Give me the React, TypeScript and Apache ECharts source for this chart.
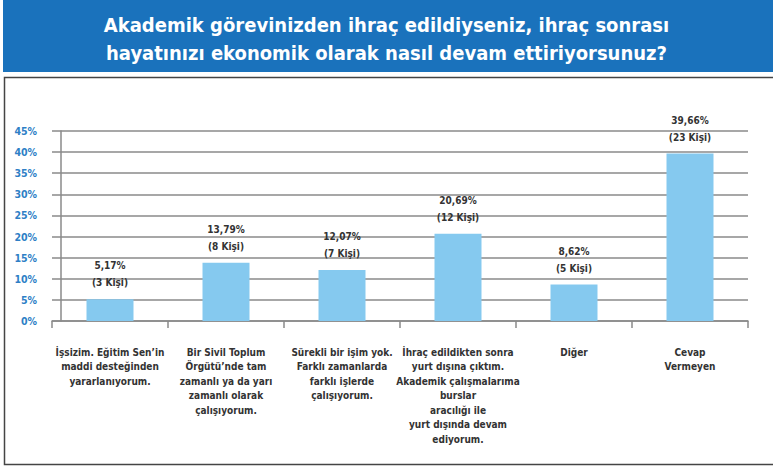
import React, { useEffect, useRef } from "react";
import * as echarts from "echarts";

const categories = [
  "İşsizim. Eğitim Sen’in\nmaddi desteğinden\nyararlanıyorum.",
  "Bir Sivil Toplum\nÖrgütü’nde tam\nzamanlı ya da yarı\nzamanlı olarak\nçalışıyorum.",
  "Sürekli bir işim yok.\nFarklı zamanlarda\nfarklı işlerde\nçalışıyorum.",
  "İhraç edildikten sonra\nyurt dışına çıktım.\nAkademik çalışmalarıma\nburslar\naracılığı ile\nyurt dışında devam\nediyorum.",
  "Diğer",
  "Cevap\nVermeyen",
];
const percentages = [5.17, 13.79, 12.07, 20.69, 8.62, 39.66];
const counts = [3, 8, 7, 12, 5, 23];
const titleText =
  "Akademik görevinizden ihraç edildiyseniz, ihraç sonrası\nhayatınızı ekonomik olarak nasıl devam ettiriyorsunuz?";

const FONT = "'DejaVu Sans Condensed', 'Roboto', sans-serif";

export default function App() {
  const ref = useRef<HTMLDivElement>(null);
  useEffect(() => {
    if (!ref.current) return;
    const chart = echarts.init(ref.current, undefined, { renderer: "svg" });
    chart.setOption({
      animation: false,
      backgroundColor: "#ffffff",
      title: {
        text: titleText,
        left: "center",
        top: 6,
        textStyle: {
          color: "#ffffff",
          fontSize: 20,
          fontWeight: "bold",
          fontFamily: FONT,
          lineHeight: 28,
        },
      },
      graphic: [
        {
          type: "rect",
          z: -10,
          shape: { x: 3, y: 0, width: 770, height: 72 },
          style: { fill: "#1a72bc" },
        },
        {
          type: "rect",
          z: -10,
          shape: { x: 4.5, y: 77.5, width: 775, height: 387 },
          style: { fill: "none", stroke: "#444", lineWidth: 1.5 },
        },
      ],
      grid: { left: 52, right: 25, top: 131, bottom: 146 },
      xAxis: {
        type: "category",
        data: categories,
        boundaryGap: true,
        axisLine: { lineStyle: { color: "#8a8a8a", width: 1.5 } },
        axisTick: { show: true, length: 7, lineStyle: { color: "#8a8a8a", width: 1.5 } },
        axisLabel: {
          interval: 0,
          margin: 24,
          color: "#333333",
          fontSize: 10,
          fontWeight: "bold",
          fontFamily: FONT,
          lineHeight: 14.5,
          align: "center",
        },
      },
      yAxis: {
        type: "value",
        min: 0,
        max: 45,
        interval: 5,
        offset: -9,
        axisLine: { show: true, lineStyle: { color: "#8a8a8a", width: 1.5 } },
        axisTick: { show: false },
        splitLine: { show: true, lineStyle: { color: "#8a8a8a", width: 1.5 } },
        axisLabel: {
          formatter: "{value}%",
          color: "#2e7fc6",
          fontSize: 10.5,
          fontWeight: "bold",
          fontFamily: FONT,
          margin: 24,
        },
      },
      series: [
        {
          type: "bar",
          data: percentages,
          barWidth: 47,
          itemStyle: { color: "#85c9ef" },
          label: {
            show: true,
            position: "top",
            distance: 8,
            color: "#333333",
            fontSize: 10,
            fontWeight: "bold",
            fontFamily: FONT,
            lineHeight: 17,
            formatter: (p: any) =>
              `${percentages[p.dataIndex].toFixed(2).replace(".", ",")}%\n(${counts[p.dataIndex]} Kişi)`,
          },
        },
      ],
    });
    return () => chart.dispose();
  }, []);
  return (
    <div
      ref={ref}
      style={{ position: "fixed", left: 0, top: 0, width: 773, height: 467 }}
    />
  );
}
